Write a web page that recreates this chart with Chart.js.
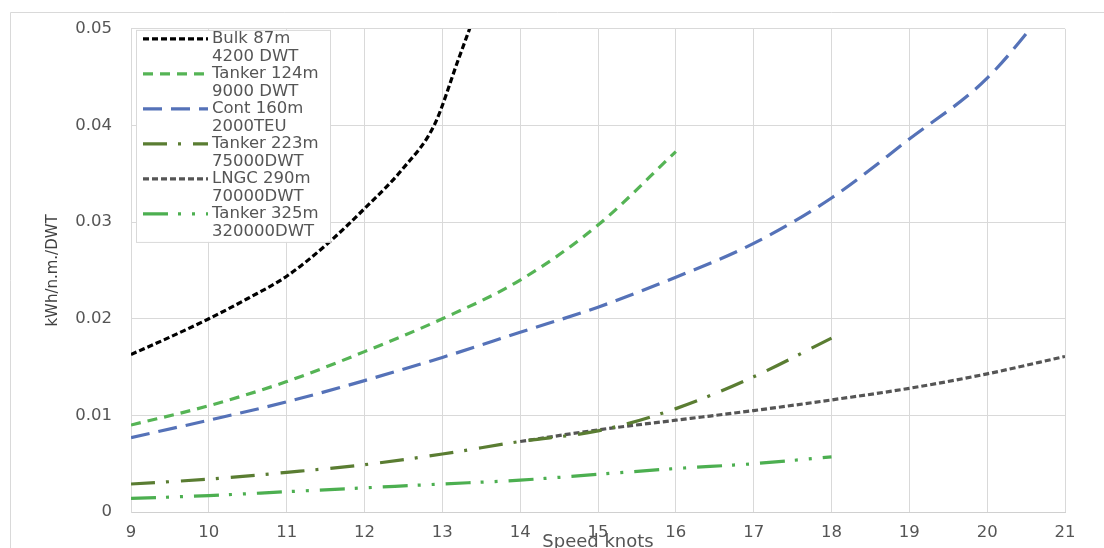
<!DOCTYPE html>
<html>
<head>
<meta charset="utf-8">
<script src="https://cdn.jsdelivr.net/npm/chart.js@4.4.1/dist/chart.umd.min.js"></script>
<style>
  html, body { margin: 0; padding: 0; background: #ffffff; }
  canvas { display: block; }
</style>
</head>
<body>
<canvas id="c" width="1104" height="548"></canvas>
<script>
// ---- data ----
const xTickLabels = ['9','10','11','12','13','14','15','16','17','18','19','20','21'];
const yTickLabels = ['0','0.01','0.02','0.03','0.04','0.05'];

const legendLines = [
  ['Bulk 87m', '4200 DWT'],
  ['Tanker 124m', '9000 DWT'],
  ['Cont 160m', '2000TEU'],
  ['Tanker 223m', '75000DWT'],
  ['LNGC 290m', '70000DWT'],
  ['Tanker 325m', '320000DWT']
];

const speedBulk   = [9, 9.5, 10, 10.5, 11, 11.5, 12, 12.5, 12.9, 13.2, 13.5];
const bulk87      = [0.0163, 0.0181, 0.0200, 0.0221, 0.0244, 0.0276, 0.0314, 0.0356, 0.0401, 0.0467, 0.0533];

const speedT124   = [9, 10, 11, 12, 13, 14, 15, 16];
const tanker124   = [0.0090, 0.0110, 0.0135, 0.0166, 0.0200, 0.0240, 0.0297, 0.0373];

const speedCont   = [9, 10, 11, 12, 13, 14, 15, 16, 17, 18, 19, 20, 21];
const cont160     = [0.0077, 0.0095, 0.0114, 0.0136, 0.0160, 0.0186, 0.0212, 0.0243, 0.0278, 0.0325, 0.0386, 0.0449, 0.0545];

const speedT223   = [9, 10, 11, 12, 13, 14, 15, 16, 17, 18];
const tanker223   = [0.0029, 0.0034, 0.0041, 0.0049, 0.0060, 0.0073, 0.0084, 0.0107, 0.0140, 0.0180];

const speedLNGC   = [14, 15, 16, 17, 18, 19, 20, 21];
const lngc290     = [0.0073, 0.0085, 0.0095, 0.0105, 0.0116, 0.0128, 0.0143, 0.0161];

const speedT325   = [9, 10, 11, 12, 13, 14, 15, 16, 17, 18];
const tanker325   = [0.0014, 0.0017, 0.0021, 0.0025, 0.0029, 0.0033, 0.0039, 0.0045, 0.0050, 0.0057];

// ---- helpers ----
function pts(xs, ys) { return xs.map((x, i) => ({ x: x, y: ys[i] })); }

const FONT = "'DejaVu Sans', sans-serif";
const TEXT = '#555555';

const styles = [
  { color: '#000000', width: 3.2, dash: [6, 3] },
  { color: '#55b455', width: 3.2, dash: [10, 7] },
  { color: '#5572b8', width: 3.2, dash: [19, 9] },
  { color: '#5a7d32', width: 3.2, dash: [24, 11, 3, 12] },
  { color: '#555555', width: 3.2, dash: [6, 3] },
  { color: '#4caf50', width: 3.2, dash: [25, 10, 3, 11, 3, 11] }
];

const seriesData = [
  pts(speedBulk, bulk87),
  pts(speedT124, tanker124),
  pts(speedCont, cont160),
  pts(speedT223, tanker223),
  pts(speedLNGC, lngc290),
  pts(speedT325, tanker325)
];

const datasets = seriesData.map((d, i) => ({
  label: legendLines[i].join(' '),
  data: d,
  borderColor: styles[i].color,
  backgroundColor: styles[i].color,
  borderWidth: styles[i].width,
  borderDash: styles[i].dash,
  borderCapStyle: 'butt',
  pointRadius: 0,
  pointHoverRadius: 0,
  fill: false,
  cubicInterpolationMode: 'monotone'
}));

// outer frame of the chart object
const framePlugin = {
  id: 'frame',
  beforeDraw(chart) {
    const ctx = chart.ctx;
    ctx.save();
    ctx.fillStyle = '#ffffff';
    ctx.fillRect(0, 0, chart.width, chart.height);
    ctx.strokeStyle = '#d9d9d9';
    ctx.lineWidth = 1;
    ctx.beginPath();
    ctx.moveTo(10.5, chart.height + 2);
    ctx.lineTo(10.5, 12.5);
    ctx.lineTo(chart.width + 2, 12.5);
    ctx.stroke();
    ctx.restore();
  }
};

// legend box inside the plot, two text lines per entry
const boxLegend = {
  id: 'boxLegend',
  afterDatasetsDraw(chart) {
    const ctx = chart.ctx;
    const area = chart.chartArea;
    const bx = area.left + 5, by = area.top + 1;
    const rowH = 17.5;
    const bw = 194, bh = legendLines.length * rowH * 2 + 2;
    ctx.save();
    ctx.fillStyle = '#ffffff';
    ctx.fillRect(bx, by, bw, bh);
    ctx.strokeStyle = '#d9d9d9';
    ctx.lineWidth = 1;
    ctx.strokeRect(bx + 0.5, by + 0.5, bw, bh);
    ctx.font = '16.5px ' + FONT;
    ctx.textBaseline = 'middle';
    ctx.textAlign = 'left';
    chart.data.datasets.forEach((ds, i) => {
      const yc = by + 9 + i * rowH * 2;
      ctx.save();
      ctx.strokeStyle = ds.borderColor;
      ctx.lineWidth = ds.borderWidth;
      ctx.setLineDash(ds.borderDash);
      ctx.beginPath();
      ctx.moveTo(bx + 7, yc);
      ctx.lineTo(bx + 72, yc);
      ctx.stroke();
      ctx.restore();
      ctx.fillStyle = TEXT;
      ctx.fillText(legendLines[i][0], bx + 76, yc);
      ctx.fillText(legendLines[i][1], bx + 76, yc + rowH);
    });
    ctx.restore();
  }
};

new Chart(document.getElementById('c'), {
  type: 'line',
  data: { datasets: datasets },
  plugins: [framePlugin, boxLegend],
  options: {
    responsive: false,
    animation: false,
    layout: { padding: { left: 0, top: 28, right: 39, bottom: 0 } },
    plugins: {
      legend: { display: false },
      tooltip: { enabled: false }
    },
    scales: {
      x: {
        type: 'linear',
        min: 9,
        max: 21,
        afterFit(s) { s.height = 36; },
        grid: { color: '#d9d9d9', lineWidth: 1, drawTicks: false },
        border: { color: '#d0d0d0' },
        ticks: {
          stepSize: 1,
          padding: 11,
          color: TEXT,
          font: { family: FONT, size: 16.5 },
          maxRotation: 0,
          callback: (v, i) => xTickLabels[i]
        },
        title: {
          display: true,
          text: 'Speed knots',
          color: TEXT,
          font: { family: FONT, size: 18 },
          padding: { top: 0, bottom: -5 }
        }
      },
      y: {
        min: 0,
        max: 0.05,
        afterFit(s) { s.width = 131; },
        grid: { color: '#d9d9d9', lineWidth: 1, drawTicks: false },
        border: { color: '#d9d9d9' },
        ticks: {
          stepSize: 0.01,
          padding: 19,
          color: TEXT,
          font: { family: FONT, size: 16.5 },
          callback: (v, i) => yTickLabels[i]
        },
        title: {
          display: true,
          text: 'kWh/n.m./DWT',
          color: '#404040',
          font: { family: FONT, size: 15 },
          padding: { top: 44, bottom: 0 }
        }
      }
    }
  }
});
</script>
</body>
</html>
